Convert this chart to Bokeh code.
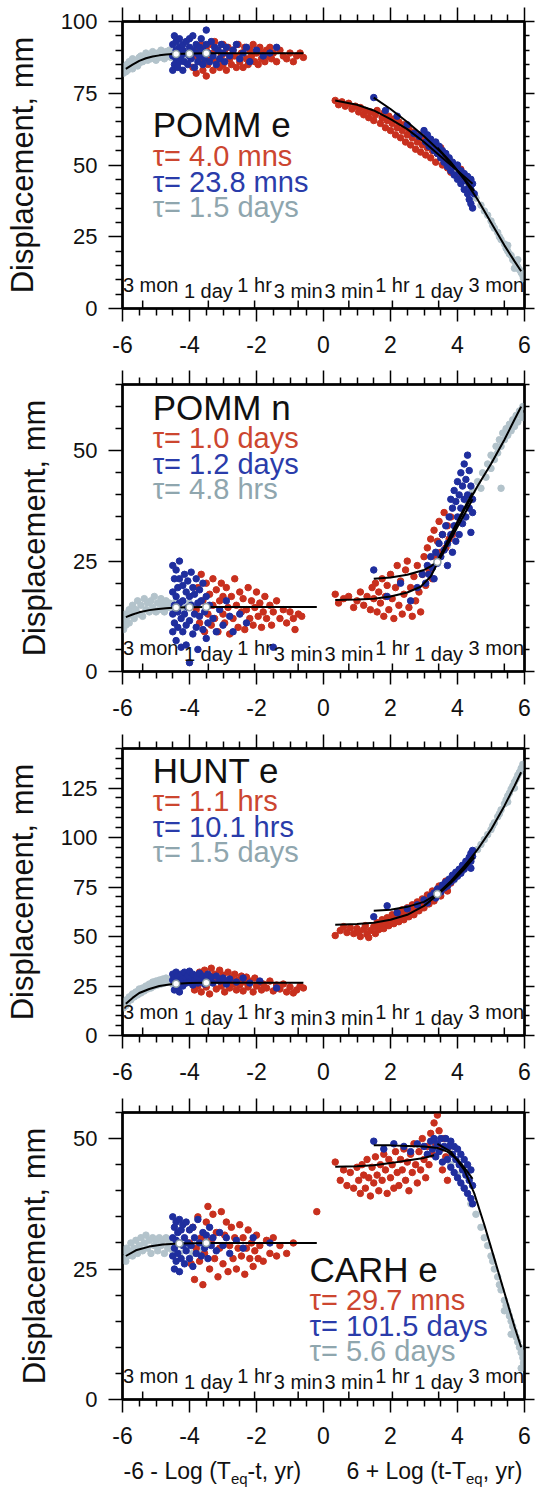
import math
from bokeh.plotting import figure
from bokeh.models import Range1d, LinearAxis, FixedTicker, Label
from bokeh.layouts import column
from bokeh.embed import file_html
from bokeh.resources import INLINE

FONT = "Liberation Sans"
RED = "#c8301e"
BLUE = "#1f2e9e"
GRAY = "#b3c3cb"
RED_T = "#cc4630"
BLUE_T = "#2a3caa"
GRAY_T = "#8fa6ae"
INK = "#111111"

# ---------------- axis ticks ----------------
x_ticks = [-6, -4, -2, 0, 2, 4, 6]
x_tick_labels = ["-6", "-4", "-2", "0", "2", "4", "6"]
x_minor_ticks = [-5.5, -5, -4.5, -3.5, -3, -2.5, -1.5, -1, -0.5,
                 0.5, 1, 1.5, 2.5, 3, 3.5, 4.5, 5, 5.5]

# ---------------- time markers ----------------
time_names = ["3 mon", "1 day", "1 hr", "3 min"]
time_years = [0.25, 1 / 365.25, 1 / 8766.0, 3 / 525960.0]
time_raised = [True, False, True, False]

# ---------------- panel 1 : POMM e ----------------
p1_name = "POMM e"
p1_taus = ["τ= 4.0 mns", "τ= 23.8 mns", "τ= 1.5 days"]
p1_ymax = 100
p1_y_ticks = [0, 25, 50, 75, 100]
p1_gray_pre = [(-5.97,82),(-5.95,83.5),(-5.92,84.5),(-5.9,82.5),(-5.87,85),(-5.85,83),(-5.8,84),(-5.8,86),(-5.75,85),(-5.7,83.5),(-5.7,87),(-5.65,85.5),(-5.6,86.5),(-5.55,84.5),(-5.5,87.5),(-5.5,85.5),(-5.45,88),(-5.4,86),(-5.35,87),(-5.3,89),(-5.25,86.5),(-5.2,88),(-5.15,87),(-5.1,89.5),(-5.05,88),(-5.0,86.5),(-4.95,89),(-4.9,87.5),(-4.85,90),(-4.8,88.5),(-4.75,87),(-4.7,89.5),(-4.65,88),(-4.6,90),(-4.55,87.5),(-4.5,89),(-4.4,88),(-4.3,90),(-4.2,87.5),(-4.1,89),(-3.9,88.5),(-3.7,89.5)]
p1_blue_pre = [(-4.5,83),(-4.5,88),(-4.5,92),(-4.45,85),(-4.45,95),(-4.4,87),(-4.4,90),(-4.4,93),(-4.35,84),(-4.35,89),(-4.3,86),(-4.3,91),(-4.3,94),(-4.25,88),(-4.2,83),(-4.2,90),(-4.2,92),(-4.15,86),(-4.1,89),(-4.1,93),(-4.05,85),(-4.0,88),(-4.0,91),(-4.0,94),(-3.95,87),(-3.9,90),(-3.9,95),(-3.85,84),(-3.8,89),(-3.8,92),(-3.75,86),(-3.7,91),(-3.7,88),(-3.65,94),(-3.6,85),(-3.6,90),(-3.55,87),(-3.5,92),(-3.5,97),(-3.45,89),(-3.4,86),(-3.35,93),(-3.3,88),(-3.25,91),(-3.2,85),(-3.15,90),(-3.1,87),(-3.05,92),(-3.0,89),(-2.95,86),(-2.9,91),(-2.8,88),(-2.7,90),(-2.6,92),(-2.5,87),(-2.4,89),(-2.3,91),(-2.2,86),(-2.0,90),(-1.8,88),(-1.6,89),(-1.4,91)]
p1_red_pre = [(-3.9,84),(-3.85,88),(-3.8,82),(-3.75,90),(-3.7,86),(-3.65,92),(-3.6,83),(-3.55,88),(-3.5,81),(-3.5,90),(-3.45,85),(-3.4,92),(-3.35,87),(-3.3,83),(-3.3,89),(-3.25,93),(-3.2,86),(-3.15,90),(-3.1,84),(-3.05,88),(-3.0,92),(-3.0,85),(-2.95,89),(-2.9,83),(-2.85,91),(-2.8,87),(-2.75,85),(-2.7,90),(-2.65,88),(-2.6,84),(-2.55,92),(-2.5,86),(-2.45,89),(-2.4,84),(-2.35,91),(-2.3,87),(-2.25,85),(-2.2,90),(-2.15,88),(-2.1,92),(-2.05,86),(-2.0,89),(-1.95,85),(-1.9,91),(-1.85,87),(-1.8,89),(-1.75,86),(-1.7,90),(-1.65,88),(-1.6,91),(-1.55,87),(-1.5,89),(-1.4,86),(-1.3,90),(-1.2,88),(-1.1,87),(-1.0,89),(-0.9,86),(-0.8,88),(-0.7,89),(-0.6,87.5)]
p1_red_post = [(0.35,72.5),(0.45,71),(0.55,72),(0.65,70.5),(0.75,71.5),(0.85,69.5),(0.95,70.5),(1.05,68.5),(1.1,70),(1.2,67.5),(1.25,69),(1.35,66.5),(1.4,68.5),(1.5,65.5),(1.55,67.5),(1.6,69),(1.7,64.5),(1.75,66.5),(1.8,68),(1.85,63),(1.9,65.5),(1.95,67),(2.0,62),(2.05,64.5),(2.1,66),(2.15,60.5),(2.2,63),(2.25,65),(2.3,59.5),(2.35,62),(2.4,64),(2.45,58),(2.5,60.5),(2.55,62.5),(2.6,57),(2.65,59.5),(2.7,61.5),(2.75,55.5),(2.8,58),(2.85,60.5),(2.9,54.5),(2.95,57),(3.0,59.5),(3.05,53.5),(3.1,56),(3.15,58.5),(3.2,52.5),(3.25,55),(3.3,57.5),(3.35,51),(3.4,54),(3.5,56),(3.55,50),(3.6,52.5),(3.7,49),(3.75,51.5),(3.8,47.5),(3.9,50),(4.0,46.5),(4.1,48.5),(4.2,45.5)]
p1_blue_post = [(1.5,73.5),(1.85,69),(2.2,67),(2.5,64),(2.7,61),(2.85,60),(3.0,62),(3.05,58),(3.1,60.5),(3.15,56.5),(3.2,59),(3.25,57.5),(3.3,55),(3.35,58),(3.4,54),(3.45,56.5),(3.5,52.5),(3.55,55),(3.6,51),(3.65,54),(3.7,49.5),(3.75,52.5),(3.8,48),(3.85,51),(3.9,46.5),(3.95,49.5),(4.0,45),(4.0,50),(4.05,47.5),(4.1,43.5),(4.1,48),(4.15,46),(4.2,41.5),(4.2,47),(4.25,44.5),(4.3,40),(4.3,46),(4.35,43),(4.35,38),(4.4,45),(4.4,36.5),(4.4,41.5),(4.45,43.5),(4.45,35),(4.5,40)]
p1_gray_post = [(3.4,57),(3.6,54),(3.8,51),(4.0,48),(4.2,44.5),(4.4,41),(4.55,38.5),(4.7,36),(4.8,34),(4.9,32.5),(5.0,30.5),(5.05,29),(5.1,28),(5.2,26.5),(5.25,25),(5.3,24),(5.4,22.5),(5.45,21),(5.5,20),(5.55,19),(5.6,18.5),(5.65,17),(5.7,16.5),(5.75,15.5),(5.8,14.5),(5.85,13.5),(5.9,12.5),(5.95,11.5),(5.97,10.5),(5.7,14),(5.8,17),(5.5,22)]
p1_fit_pre = [(-5.9,83.5),(-5.7,85),(-5.5,86.3),(-5.3,87.2),(-5.1,87.8),(-4.9,88.2),(-4.7,88.5),(-4.5,88.7),(-4.2,88.8),(-3.9,88.85),(-3.5,88.9),(-0.6,88.9)]
p1_fit_red = [(0.35,72.5),(1.0,71),(1.5,69),(2.0,66),(2.5,62.5),(3.0,58),(3.5,53),(4.0,48),(4.45,43.5)]
p1_fit_blue = [(1.5,73.5),(2.0,69.5),(2.5,65),(3.0,60),(3.5,54.5),(4.0,48),(4.5,41)]
p1_fit_gray = [(3.4,56),(3.8,51),(4.2,45),(4.6,38),(5.0,30),(5.4,22),(5.7,16.5),(5.9,13)]
p1_open = [(-4.4,88.7),(-4.0,88.8),(-3.5,88.9)]

# ---------------- panel 2 : POMM n ----------------
p2_name = "POMM n"
p2_taus = ["τ= 1.0 days", "τ= 1.2 days", "τ= 4.8 hrs"]
p2_ymax = 65
p2_y_ticks = [0, 25, 50]
p2_gray_pre = [(-5.97,9.5),(-5.95,11.5),(-5.92,13),(-5.9,10.5),(-5.85,12.5),(-5.8,14),(-5.8,11),(-5.75,13),(-5.7,15),(-5.65,12),(-5.6,14),(-5.55,16),(-5.5,13),(-5.45,15),(-5.4,12.5),(-5.35,16.5),(-5.3,14),(-5.25,15.5),(-5.2,13.5),(-5.15,16),(-5.1,14.5),(-5.05,17),(-5.0,13.5),(-4.95,15.5),(-4.9,14),(-4.85,16.5),(-4.8,15),(-4.75,13.5),(-4.7,16),(-4.65,14.5),(-4.6,15.5),(-4.5,14),(-4.4,16),(-4.2,14.5),(-4.0,15.5),(-3.8,14.5)]
p2_blue_pre = [(-4.5,24),(-4.5,18),(-4.5,13),(-4.5,9),(-4.45,21),(-4.45,15),(-4.45,11),(-4.4,23),(-4.4,17),(-4.4,7),(-4.35,19),(-4.35,13.5),(-4.35,10),(-4.3,25),(-4.3,21),(-4.3,15.5),(-4.25,12),(-4.25,5.5),(-4.2,19.5),(-4.2,16),(-4.2,9),(-4.15,22),(-4.15,13),(-4.1,18),(-4.1,10.5),(-4.1,6),(-4.05,20.5),(-4.05,14.5),(-4.0,17),(-4.0,11.5),(-4.0,2),(-3.95,22.5),(-3.95,15),(-3.9,19),(-3.9,8.5),(-3.85,13),(-3.85,17.5),(-3.8,21),(-3.8,10),(-3.75,15.5),(-3.75,5),(-3.7,18.5),(-3.7,12.5),(-3.65,16),(-3.6,9.5),(-3.6,20),(-3.55,13.5),(-3.5,17),(-3.5,7.5),(-3.45,11),(-3.4,15),(-3.3,12),(-3.2,9),(-3.1,14),(-3.0,10.5),(-2.9,16),(-2.8,12.5),(-2.7,9),(-2.5,13),(-2.3,11),(-1.5,5.5)]
p2_red_pre = [(-3.8,14),(-3.75,19),(-3.7,11),(-3.65,22),(-3.6,16),(-3.55,9),(-3.5,20),(-3.45,13),(-3.4,17.5),(-3.35,10.5),(-3.3,21),(-3.3,15),(-3.25,12),(-3.2,18.5),(-3.15,9),(-3.1,16),(-3.05,20),(-3.0,13),(-3.0,17),(-2.95,11),(-2.9,19),(-2.85,14.5),(-2.8,8.5),(-2.75,17),(-2.7,12),(-2.65,21),(-2.6,15),(-2.55,10),(-2.5,18),(-2.45,13.5),(-2.4,16.5),(-2.35,9.5),(-2.3,14),(-2.25,19),(-2.2,12),(-2.15,16),(-2.1,10.5),(-2.05,14.5),(-2.0,18),(-1.95,12.5),(-1.9,15.5),(-1.85,10),(-1.8,13.5),(-1.75,17),(-1.7,12),(-1.6,15),(-1.55,10.5),(-1.5,13.5),(-1.4,16),(-1.3,12),(-1.2,14),(-1.1,11),(-1.0,13.5),(-0.9,12),(-0.85,9.5),(-0.75,13),(-0.65,12.5)]
p2_red_post = [(0.35,17.5),(0.45,15.5),(0.6,16.5),(0.75,17),(0.9,14.5),(1.0,16),(1.1,18),(1.2,15),(1.3,17),(1.4,14),(1.45,19),(1.5,16.5),(1.55,20),(1.6,13.5),(1.65,18),(1.7,15.5),(1.75,21),(1.8,12.5),(1.85,17),(1.9,19.5),(1.95,14),(2.0,22),(2.05,16.5),(2.1,12),(2.15,19),(2.2,24),(2.25,15),(2.3,20.5),(2.35,13),(2.4,17.5),(2.45,23),(2.5,25),(2.55,14.5),(2.6,19),(2.65,12.5),(2.7,21.5),(2.75,16),(2.8,24),(2.85,18),(2.9,13.5),(2.95,22),(3.0,26),(3.05,19.5),(3.1,28),(3.15,23),(3.2,30),(3.25,21),(3.3,32),(3.35,26),(3.4,29.5),(3.45,34),(3.5,27),(3.55,31),(3.6,36),(3.65,28),(3.7,33),(3.75,30),(3.8,35),(3.85,31)]
p2_blue_post = [(1.5,23),(1.9,17),(2.3,20),(2.6,16),(2.8,19),(2.95,22),(3.05,20),(3.1,24),(3.15,22),(3.2,26),(3.25,23.5),(3.3,21),(3.35,27),(3.4,24.5),(3.45,29),(3.5,26),(3.55,31),(3.6,27.5),(3.65,33),(3.7,29),(3.7,24),(3.75,35),(3.8,31),(3.8,39),(3.85,27),(3.85,37),(3.9,33),(3.9,41),(3.95,29.5),(3.95,38.5),(4.0,35),(4.0,43),(4.05,31),(4.05,40),(4.1,37),(4.1,45),(4.15,33.5),(4.15,42),(4.2,39),(4.2,47),(4.25,35),(4.25,43.5),(4.3,40),(4.3,49),(4.35,37),(4.35,45.5),(4.4,31.5),(4.4,42),(4.45,36),(4.45,39)]
p2_gray_post = [(3.5,26),(3.7,28.5),(3.9,31.5),(4.1,35),(4.3,38.5),(4.45,41),(4.6,43),(4.7,41.5),(4.75,45),(4.85,44),(4.9,47),(5.0,46),(5.0,49),(5.1,48),(5.15,51),(5.2,49.5),(5.25,52.5),(5.3,51),(5.35,54),(5.4,52.5),(5.45,55),(5.5,53.5),(5.55,56),(5.6,54.5),(5.65,57),(5.7,55.5),(5.75,58),(5.8,56.5),(5.85,59),(5.9,58),(5.95,60),(5.95,57.5),(5.3,41.5)]
p2_fit_pre = [(-5.9,12.3),(-5.7,12.9),(-5.5,13.4),(-5.2,13.9),(-5.0,14.1),(-4.7,14.35),(-4.4,14.5),(-4.0,14.55),(-3.5,14.6),(-0.2,14.6)]
p2_fit_red = [(0.35,16.2),(1.0,16.3),(1.5,16.5),(2.0,17.0),(2.5,17.9),(2.9,19.2),(3.2,21.5),(3.4,24.5),(3.8,30),(4.2,35.5),(4.45,39)]
p2_fit_blue = [(1.5,21),(2.0,21.3),(2.5,21.9),(3.0,23),(3.2,23.8),(3.4,25),(3.8,31),(4.2,37),(4.45,40.5)]
p2_fit_gray = [(3.4,25),(3.8,30.5),(4.2,36.5),(4.6,42),(5.0,47),(5.4,52.5),(5.7,57),(5.9,60)]
p2_open = [(-4.4,14.5),(-4.0,14.55),(-3.5,14.6),(3.4,24.8)]

# ---------------- panel 3 : HUNT e ----------------
p3_name = "HUNT e"
p3_taus = ["τ= 1.1 hrs", "τ= 10.1 hrs", "τ= 1.5 days"]
p3_ymax = 145
p3_y_ticks = [0, 25, 50, 75, 100, 125]
p3_gray_pre = [(-5.97,14),(-5.95,16.5),(-5.9,15),(-5.88,18),(-5.85,16.5),(-5.8,19.5),(-5.75,18),(-5.7,21),(-5.65,19.5),(-5.6,22),(-5.55,20.5),(-5.5,23.5),(-5.45,21.5),(-5.4,24),(-5.35,22.5),(-5.3,25),(-5.25,23.5),(-5.2,26),(-5.15,24),(-5.1,27),(-5.05,25),(-5.0,27.5),(-4.95,25.5),(-4.9,28),(-4.85,26),(-4.8,28.5),(-4.75,26.5),(-4.7,29),(-4.65,27),(-4.6,28),(-4.5,26),(-4.4,28.5),(-4.3,27),(-4.1,28),(-3.9,26.5),(-3.7,27.5)]
p3_blue_pre = [(-4.5,28),(-4.5,31),(-4.45,23),(-4.45,29.5),(-4.4,26),(-4.4,32),(-4.35,24.5),(-4.35,30),(-4.3,27.5),(-4.3,22),(-4.25,31),(-4.2,28.5),(-4.2,25),(-4.15,32),(-4.1,29),(-4.1,26.5),(-4.05,30.5),(-4.0,27),(-4.0,32.5),(-3.95,29.5),(-3.9,25.5),(-3.9,31),(-3.85,28),(-3.8,30),(-3.75,26.5),(-3.7,31.5),(-3.65,28.5),(-3.6,30),(-3.55,26),(-3.5,29),(-3.45,31),(-3.4,27.5),(-3.35,29.5),(-3.3,26.5),(-3.2,30),(-3.1,27.5),(-3.0,29),(-2.9,26),(-2.8,28.5),(-2.6,27),(-2.4,29),(-2.2,26.5),(-1.9,27.5),(-1.4,24)]
p3_red_pre = [(-3.9,27),(-3.85,23),(-3.8,30),(-3.75,25),(-3.7,32),(-3.65,22),(-3.6,28),(-3.55,33),(-3.5,24.5),(-3.45,30),(-3.4,21),(-3.35,34),(-3.3,27),(-3.25,31),(-3.2,23.5),(-3.15,29),(-3.1,33),(-3.05,25),(-3.0,30.5),(-2.95,22),(-2.9,27.5),(-2.85,32),(-2.8,24),(-2.75,29),(-2.7,26),(-2.65,31),(-2.6,23),(-2.55,28),(-2.5,25.5),(-2.45,30),(-2.4,22.5),(-2.35,27),(-2.3,29.5),(-2.25,24.5),(-2.2,27.5),(-2.1,22),(-2.05,29),(-2.0,25),(-1.9,27),(-1.85,23),(-1.8,26),(-1.7,24),(-1.6,27.5),(-1.5,22.5),(-1.4,25.5),(-1.3,23.5),(-1.2,26),(-1.1,22),(-1.0,24.5),(-0.9,21.5),(-0.8,23),(-0.7,25),(-0.6,24)]
p3_red_post = [(0.35,50.5),(0.5,53),(0.6,55),(0.7,52),(0.8,54.5),(0.9,51.5),(1.0,54),(1.05,52),(1.1,50),(1.2,53.5),(1.25,55.5),(1.3,51),(1.35,49.5),(1.4,53),(1.5,55),(1.55,51.5),(1.6,57),(1.65,53.5),(1.7,55.5),(1.75,58.5),(1.8,54),(1.85,56.5),(1.9,59.5),(1.95,55.5),(2.0,58),(2.05,61),(2.1,56.5),(2.15,59),(2.2,62),(2.25,57.5),(2.3,60.5),(2.35,63.5),(2.4,58.5),(2.45,61.5),(2.5,64.5),(2.55,60),(2.6,63),(2.65,66),(2.7,61),(2.75,64.5),(2.8,67.5),(2.85,63),(2.9,66),(2.95,69),(3.0,64.5),(3.05,67.5),(3.1,71),(3.15,66.5),(3.2,69.5),(3.25,73),(3.3,68),(3.4,72.5),(3.45,75.5),(3.5,70.5),(3.6,74),(3.65,78),(3.7,73),(3.8,77),(3.9,80)]
p3_blue_post = [(1.5,60),(1.9,65.5),(2.2,62),(2.5,64),(2.8,66),(3.0,68.5),(3.1,67),(3.2,70.5),(3.3,72),(3.35,69.5),(3.4,74),(3.5,72.5),(3.55,76),(3.6,74.5),(3.65,77.5),(3.7,75.5),(3.75,79),(3.8,77.5),(3.85,81),(3.9,79),(3.95,82.5),(4.0,80.5),(4.05,84),(4.1,82),(4.15,86),(4.2,84),(4.25,88),(4.3,86),(4.35,90),(4.4,88),(4.4,92),(4.45,90.5),(4.45,93.5),(4.4,84.5)]
p3_gray_post = [(3.5,72),(3.7,75),(3.9,78.5),(4.1,82),(4.3,87),(4.45,90.5),(4.6,94),(4.7,96.5),(4.8,99),(4.9,101.5),(5.0,104),(5.05,106),(5.1,107.5),(5.2,110.5),(5.25,112),(5.3,114),(5.4,117),(5.45,119),(5.5,121),(5.55,122.5),(5.6,124.5),(5.65,126),(5.7,128),(5.75,129.5),(5.8,131.5),(5.85,133),(5.9,135),(5.95,137),(5.5,118),(5.7,125)]
p3_fit_pre = [(-5.9,16),(-5.7,19),(-5.5,21.5),(-5.2,23.5),(-4.9,25),(-4.5,26),(-4.0,26.5),(-3.5,26.7),(-0.6,26.7)]
p3_fit_red = [(0.35,56),(1.0,56.3),(1.5,57),(2.0,58.5),(2.5,61),(3.0,65.5),(3.4,71),(3.8,77),(4.2,84),(4.5,90)]
p3_fit_blue = [(1.5,63),(2.0,63.5),(2.5,65),(3.0,67.5),(3.4,71.5),(3.8,78),(4.2,85.5),(4.5,91.5)]
p3_fit_gray = [(3.4,71.5),(3.8,77.5),(4.2,85),(4.6,94),(5.0,104),(5.4,116),(5.7,126),(5.9,133)]
p3_open = [(-4.4,26.2),(-3.5,26.7),(3.4,71.5)]

# ---------------- panel 4 : CARH e ----------------
p4_name = "CARH e"
p4_taus = ["τ= 29.7 mns", "τ= 101.5 days", "τ= 5.6 days"]
p4_ymax = 55
p4_y_ticks = [0, 25, 50]
p4_gray_pre = [(-5.97,27),(-5.95,28.5),(-5.9,26.5),(-5.88,29),(-5.85,27.5),(-5.8,28.5),(-5.75,30),(-5.7,27.5),(-5.65,29),(-5.6,30.5),(-5.55,28),(-5.5,29.5),(-5.45,31),(-5.4,28.5),(-5.35,30),(-5.3,31.5),(-5.25,29),(-5.2,30.5),(-5.15,28),(-5.1,31),(-5.05,29.5),(-5.0,30.5),(-4.95,28.5),(-4.9,31),(-4.85,29.5),(-4.8,30.5),(-4.75,28),(-4.7,31),(-4.65,29),(-4.6,30),(-4.5,28.5),(-4.4,30),(-4.3,28),(-4.1,29.5),(-3.9,28),(-3.7,28.5)]
p4_blue_pre = [(-4.5,35),(-4.5,31),(-4.5,27.5),(-4.45,33),(-4.45,29),(-4.45,25),(-4.4,34),(-4.4,30.5),(-4.4,26.5),(-4.35,32),(-4.35,28),(-4.3,34.5),(-4.3,30),(-4.3,24.5),(-4.25,32.5),(-4.25,27),(-4.2,29.5),(-4.2,33.5),(-4.15,26),(-4.15,31),(-4.1,28.5),(-4.1,34),(-4.05,30),(-4.0,32.5),(-4.0,27),(-3.95,29.5),(-3.9,33),(-3.9,25.5),(-3.85,31),(-3.8,28),(-3.75,34.5),(-3.7,30),(-3.65,27.5),(-3.6,32),(-3.55,29),(-3.5,31.5),(-3.45,27),(-3.4,33),(-3.35,29.5),(-3.3,31),(-3.2,28.5),(-3.1,32),(-3.0,29.5),(-2.9,31),(-2.8,28),(-2.6,30.5),(-2.4,29),(-2.1,31),(-1.6,30)]
p4_red_pre = [(-4.0,30),(-3.95,26),(-3.9,33),(-3.85,23),(-3.8,29),(-3.75,35),(-3.7,26.5),(-3.65,31),(-3.6,22),(-3.55,28),(-3.5,34),(-3.45,37),(-3.4,25),(-3.35,30.5),(-3.3,35.5),(-3.25,27),(-3.2,32),(-3.15,23.5),(-3.1,29),(-3.05,36),(-3.0,26),(-2.95,31.5),(-2.9,34),(-2.85,24.5),(-2.8,29.5),(-2.75,33),(-2.7,27),(-2.65,31),(-2.6,25),(-2.55,29),(-2.5,33.5),(-2.45,27.5),(-2.4,31),(-2.35,24),(-2.3,29),(-2.25,32.5),(-2.2,27),(-2.15,30),(-2.1,25.5),(-2.05,28.5),(-2.0,31.5),(-1.95,27),(-1.9,29.5),(-1.8,26.5),(-1.7,30.5),(-1.6,28),(-1.5,31),(-1.4,27.5),(-1.3,29.5),(-1.1,28),(-0.9,30),(-0.2,36)]
p4_red_post = [(0.35,45.5),(0.5,42),(0.6,44),(0.7,41),(0.8,43.5),(0.9,40.5),(1.0,44.5),(1.05,42),(1.1,39.5),(1.15,45),(1.2,43),(1.25,40.5),(1.3,46),(1.35,42.5),(1.4,39),(1.45,44.5),(1.5,41.5),(1.55,46.5),(1.6,43),(1.65,40),(1.7,45),(1.75,42),(1.8,47),(1.85,44),(1.9,39.5),(1.95,46),(2.0,42.5),(2.05,45),(2.1,40.5),(2.15,47.5),(2.2,43.5),(2.25,41),(2.3,46),(2.35,44),(2.4,48),(2.45,42),(2.5,45.5),(2.55,40),(2.6,47),(2.65,43.5),(2.7,49),(2.75,45),(2.8,41.5),(2.85,47.5),(2.9,44),(2.95,50),(3.0,46),(3.05,42.5),(3.1,48.5),(3.15,45),(3.2,51),(3.25,47),(3.3,53),(3.35,49),(3.4,54.5),(3.45,51.5),(3.5,48),(3.55,44),(3.6,50),(3.65,46.5),(3.7,42),(3.75,48.5)]
p4_blue_post = [(1.5,49.5),(1.8,48),(2.1,49),(2.4,48.5),(2.6,47.5),(2.8,49),(3.0,48.5),(3.1,47),(3.2,49.5),(3.25,48),(3.3,50),(3.35,46.5),(3.4,49),(3.45,47.5),(3.5,50),(3.55,45.5),(3.6,48.5),(3.65,50),(3.7,46),(3.75,48.5),(3.8,44.5),(3.8,49.5),(3.85,47),(3.9,43.5),(3.9,48.5),(3.95,46),(4.0,42.5),(4.0,48),(4.05,45),(4.1,41.5),(4.1,47),(4.15,44),(4.2,40.5),(4.2,46),(4.25,43),(4.3,39.5),(4.3,45),(4.35,42),(4.4,38.5),(4.4,44),(4.45,41),(4.45,37.5)]
p4_gray_post = [(3.8,45),(4.0,43),(4.2,40.5),(4.4,37.5),(4.55,35.5),(4.7,33),(4.8,31),(4.9,29.5),(5.0,27.5),(5.05,26.5),(5.1,25),(5.2,23.5),(5.25,22),(5.3,21),(5.4,19),(5.45,18),(5.5,17),(5.55,16),(5.6,15),(5.65,14),(5.7,13),(5.75,12),(5.8,11),(5.85,10),(5.9,9),(5.95,8),(5.97,7),(5.9,6),(5.6,12.5),(5.4,17)]
p4_fit_pre = [(-5.9,27.5),(-5.6,28.6),(-5.2,29.3),(-4.8,29.7),(-4.3,29.9),(-3.5,30),(-0.2,30)]
p4_fit_red = [(0.35,44.6),(1.0,44.7),(1.5,44.9),(2.0,45.3),(2.5,45.8),(3.0,46.3),(3.3,46.8)]
p4_fit_blue = [(1.5,48.7),(2.0,48.7),(2.5,48.6),(3.0,48.5),(3.4,48.2),(3.7,47.5),(4.0,46),(4.2,44.5),(4.45,42.3)]
p4_fit_gray = [(3.4,49),(3.8,47.5),(4.2,44),(4.5,39.5),(4.8,33.5),(5.1,27),(5.4,20.5),(5.7,14),(5.9,10)]
p4_open = [(-4.3,29.9),(-3.5,30)]

# ---------------- x-axis title (bottom) : text, subscript, text ----------------
title_left = ["-6 - Log (T", "eq", "-t, yr)"]
title_right = ["6 + Log (t-T", "eq", ", yr)"]

panels = [
    dict(name=p1_name, taus=p1_taus, ymax=p1_ymax, yticks=p1_y_ticks, label_xy=(-5.1, 64.1), height=363, bottom=55,
         gray=[p1_gray_pre, p1_gray_post], red=[p1_red_pre, p1_red_post], blue=[p1_blue_pre, p1_blue_post],
         fits=[p1_fit_pre, p1_fit_red, p1_fit_blue, p1_fit_gray], opens=p1_open),
    dict(name=p2_name, taus=p2_taus, ymax=p2_ymax, yticks=p2_y_ticks, label_xy=(-5.1, 59.8), height=364, bottom=56,
         gray=[p2_gray_pre, p2_gray_post], red=[p2_red_pre, p2_red_post], blue=[p2_blue_pre, p2_blue_post],
         fits=[p2_fit_pre, p2_fit_red, p2_fit_blue, p2_fit_gray], opens=p2_open),
    dict(name=p3_name, taus=p3_taus, ymax=p3_ymax, yticks=p3_y_ticks, label_xy=(-5.1, 134.0), height=364, bottom=56,
         gray=[p3_gray_pre, p3_gray_post], red=[p3_red_pre, p3_red_post], blue=[p3_blue_pre, p3_blue_post],
         fits=[p3_fit_pre, p3_fit_red, p3_fit_blue, p3_fit_gray], opens=p3_open),
    dict(name=p4_name, taus=p4_taus, ymax=p4_ymax, yticks=p4_y_ticks, label_xy=(-0.42, 25.0), height=364, bottom=56,
         gray=[p4_gray_pre, p4_gray_post], red=[p4_red_pre, p4_red_post], blue=[p4_blue_pre, p4_blue_post],
         fits=[p4_fit_pre, p4_fit_red, p4_fit_blue, p4_fit_gray], opens=p4_open),
]

FRAME_H = 287.0
PX_PER_X = 402.0 / 12.0
TAU_OFFSETS = [31, 57, 82]
MARK = 6.5


def xy(points):
    return [p[0] for p in points], [p[1] for p in points]


def style_axis(ax, tick_out, minor_out, labels, ticks=None):
    ax.major_tick_in = 0
    ax.major_tick_out = tick_out
    ax.minor_tick_in = 0
    ax.minor_tick_out = minor_out
    ax.major_tick_line_color = "black"
    ax.major_tick_line_width = 1.5
    ax.minor_tick_line_color = "black"
    ax.minor_tick_line_width = 1.5
    ax.axis_line_color = "black"
    ax.axis_line_width = 2
    if labels:
        ax.major_label_text_font = FONT
        ax.major_label_text_font_size = "22px"
        ax.major_label_text_color = INK
    else:
        ax.major_label_overrides = {t: "" for t in ticks}
        ax.major_label_text_font_size = "2px"
        ax.major_label_standoff = 0


def make_panel(cfg):
    ymax = cfg["ymax"]
    y_minor = [v for v in range(0, ymax + 1, 5) if v not in cfg["yticks"]]
    p = figure(width=535, height=cfg["height"], x_range=Range1d(-6, 6), y_range=Range1d(0, ymax),
               output_backend="svg", toolbar_location=None, tools="",
               min_border_left=122, min_border_right=11, min_border_top=21,
               min_border_bottom=cfg["bottom"])
    p.xgrid.visible = False
    p.ygrid.visible = False
    p.outline_line_color = "black"
    p.outline_line_width = 2.5
    p.background_fill_color = "white"
    p.border_fill_color = "white"

    xt = FixedTicker(ticks=x_ticks, minor_ticks=x_minor_ticks)
    yt = FixedTicker(ticks=cfg["yticks"], minor_ticks=y_minor)

    xa = p.xaxis[0]
    xa.ticker = xt
    style_axis(xa, 13, 7, True)
    xa.major_label_text_font_size = "23px"
    xa.major_label_standoff = 14
    xa.major_label_overrides = {t: s for t, s in zip(x_ticks, x_tick_labels)}

    ya = p.yaxis[0]
    ya.ticker = yt
    style_axis(ya, 14, 7, True)
    ya.major_label_standoff = 11
    ya.axis_label = "Displacement, mm"
    ya.axis_label_text_font = FONT
    ya.axis_label_text_font_size = "31px"
    ya.axis_label_text_font_style = "normal"
    ya.axis_label_text_color = INK
    ya.axis_label_standoff = 18

    top = LinearAxis(ticker=xt)
    style_axis(top, 14, 7, False, x_ticks)
    p.add_layout(top, "above")
    right = LinearAxis(ticker=yt)
    style_axis(right, 10, 5, False, cfg["yticks"])
    p.add_layout(right, "right")

    for pts in cfg["gray"]:
        xs, ys = xy(pts)
        p.scatter(xs, ys, size=MARK, fill_color=GRAY, line_color=GRAY)
    for pts in cfg["red"]:
        xs, ys = xy(pts)
        p.scatter(xs, ys, size=MARK, fill_color=RED, line_color=RED)
    for pts in cfg["blue"]:
        xs, ys = xy(pts)
        p.scatter(xs, ys, size=MARK, fill_color=BLUE, line_color=BLUE)

    for pts in cfg["fits"]:
        xs, ys = xy(pts)
        p.line(xs, ys, line_color="black", line_width=2)
    ox, oy = xy(cfg["opens"])
    p.scatter(ox, oy, size=7, fill_color="white", line_color="#8c9ca4", line_width=1.5)

    unit = ymax / FRAME_H
    pos_x, names, raised = [], [], []
    for nm, yrs, r in zip(time_names, time_years, time_raised):
        pos_x += [-6 - math.log10(yrs), 6 + math.log10(yrs)]
        names += [nm, nm]
        raised += [r, r]
    p.segment(x0=pos_x, y0=[0] * len(pos_x), x1=pos_x, y1=[8 * unit] * len(pos_x),
              line_color="black", line_width=1.5)
    for xv, nm, r in zip(pos_x, names, raised):
        # keep the outermost labels inside the frame (the frame clips text)
        shift = 0
        if xv < -5:
            shift = 8
        elif xv > 5:
            shift = -8
        p.add_layout(Label(x=xv, y=(24 if r else 18) * unit, x_offset=shift, text=nm, text_align="center",
                           text_baseline="middle", text_font=FONT, text_font_size="20px",
                           text_color=INK))

    lx, ly = cfg["label_xy"]
    p.add_layout(Label(x=lx, y=ly, text=cfg["name"], text_font=FONT, text_font_size="35px",
                       text_color=INK, text_baseline="middle"))
    for t, c, off in zip(cfg["taus"], [RED_T, BLUE_T, GRAY_T], TAU_OFFSETS):
        p.add_layout(Label(x=lx, y=ly, y_offset=-off, text=t, text_font=FONT, text_font_size="29px",
                           text_color=c, text_baseline="middle"))
    return p


def make_title():
    # its frame is aligned with the panels above (x from -6 to 6)
    t = figure(width=535, height=32, x_range=Range1d(-6, 6), y_range=Range1d(0, 32),
               output_backend="svg", toolbar_location=None, tools="",
               x_axis_location=None, y_axis_location=None,
               min_border_left=122, min_border_right=11, min_border_top=0, min_border_bottom=0)
    t.xgrid.visible = False
    t.ygrid.visible = False
    t.outline_line_color = None
    t.background_fill_color = "white"
    t.border_fill_color = "white"
    widths = {"-6 - Log (T": 107.4, "6 + Log (t-T": 119.5}
    for start_px, parts in ((123, title_left), (346, title_right)):
        main1, sub, main2 = parts
        x0 = -6 + (start_px - 122) / PX_PER_X
        w1 = widths[main1]
        t.add_layout(Label(x=x0, y=17, text=main1, text_font=FONT, text_font_size="23px",
                           text_color=INK, text_baseline="middle"))
        t.add_layout(Label(x=x0, y=9, x_offset=w1, text=sub, text_font=FONT, text_font_size="15px",
                           text_color=INK, text_baseline="middle"))
        t.add_layout(Label(x=x0, y=17, x_offset=w1 + 16.7, text=main2, text_font=FONT, text_font_size="23px",
                           text_color=INK, text_baseline="middle"))
    return t


figs = [make_panel(cfg) for cfg in panels]
figs.append(make_title())
layout = column(*figs, spacing=0)
open("out.html", "w").write(file_html(layout, INLINE))
